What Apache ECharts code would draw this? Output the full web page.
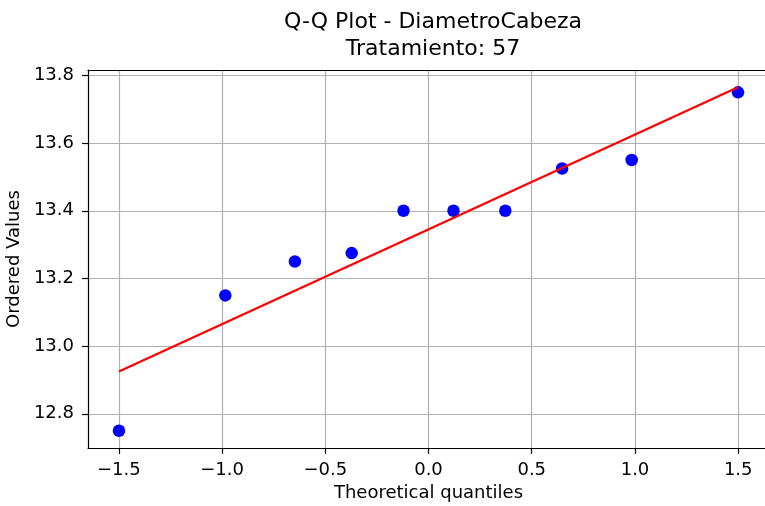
<!DOCTYPE html>
<html>
<head>
<meta charset="utf-8">
<title>Q-Q Plot - DiametroCabeza</title>
<script src="https://cdn.jsdelivr.net/npm/echarts@6/dist/echarts.min.js"></script>
<style>
  html, body { margin: 0; padding: 0; background: #fff; overflow: hidden; }
  #chart { width: 765px; height: 506px; }
</style>
</head>
<body>
<div id="chart"></div>
<script>
// Theoretical normal quantiles (x) and ordered sample values (y)
const theoreticalQuantiles = [-1.499, -0.984, -0.647, -0.372, -0.121, 0.121, 0.372, 0.647, 0.984, 1.499];
const orderedValues = [12.75, 13.15, 13.25, 13.275, 13.4, 13.4, 13.4, 13.525, 13.55, 13.75];

// Least-squares reference line, given by its two end points
const fitLineX = [-1.499, 1.499];
const fitLineY = [12.925, 13.765];

// Tick positions
const xTicks = [-1.5, -1.0, -0.5, 0.0, 0.5, 1.0, 1.5];
const yTicks = [12.8, 13.0, 13.2, 13.4, 13.6, 13.8];

const FONT = "'DejaVu Sans', sans-serif";
const fmt = v => (v < 0 ? '\u2212' : '') + Math.abs(v).toFixed(1);
const X_MIN = -1.649, X_MAX = 1.649;

const chart = echarts.init(document.getElementById('chart'), null, { renderer: 'canvas' });

chart.setOption({
  animation: false,
  backgroundColor: '#fff',
  title: {
    text: 'Q-Q Plot - DiametroCabeza\nTratamiento: 57',
    left: 428,
    top: 4,
    textAlign: 'center',
    textStyle: {
      fontFamily: FONT,
      fontSize: 22,
      fontWeight: 'normal',
      color: '#000',
      lineHeight: 27
    }
  },
  grid: {
    left: 88,
    top: 70,
    width: 681,
    height: 378,
    outerBoundsMode: 'none',
    containLabel: false,
    show: false
  },
  xAxis: [
    {
      type: 'value',
      min: X_MIN,
      max: X_MAX,
      name: 'Theoretical quantiles',
      nameLocation: 'middle',
      nameGap: 36,
      nameTextStyle: { fontFamily: FONT, fontSize: 18, color: '#000' },
      axisLine: { show: true, onZero: false, lineStyle: { color: '#000', width: 1.2 } },
      axisTick: { show: true, length: 6, customValues: xTicks, lineStyle: { color: '#000', width: 1.2 } },
      axisLabel: {
        customValues: xTicks,
        formatter: fmt,
        fontFamily: FONT,
        fontSize: 18,
        color: '#000',
        margin: 13,
        hideOverlap: false
      },
      splitLine: { show: true, lineStyle: { color: '#b0b0b0', width: 1.2 } }
    },
    {
      // top spine
      type: 'value',
      position: 'top',
      min: X_MIN,
      max: X_MAX,
      axisLine: { show: true, onZero: false, lineStyle: { color: '#000', width: 1.2 } },
      axisTick: { show: false },
      axisLabel: { show: false },
      splitLine: { show: false }
    }
  ],
  yAxis: {
    type: 'value',
    min: 12.699,
    max: 13.816,
    name: 'Ordered Values',
    nameLocation: 'middle',
    nameGap: 63,
    nameTextStyle: { fontFamily: FONT, fontSize: 18, color: '#000' },
    axisLine: { show: true, onZero: false, lineStyle: { color: '#000', width: 1.2 } },
    axisTick: { show: true, length: 6, customValues: yTicks, lineStyle: { color: '#000', width: 1.2 } },
    axisLabel: {
      customValues: yTicks,
      formatter: fmt,
      fontFamily: FONT,
      fontSize: 18,
      color: '#000',
      margin: 14
    },
    splitLine: { show: true, lineStyle: { color: '#b0b0b0', width: 1.2 } }
  },
  series: [
    {
      name: 'Datos',
      type: 'scatter',
      xAxisIndex: 0,
      data: theoreticalQuantiles.map((x, i) => [x, orderedValues[i]]),
      symbol: 'circle',
      symbolSize: 12.5,
      itemStyle: { color: '#0000ff', opacity: 1 },
      z: 3
    },
    {
      name: 'Ajuste',
      type: 'line',
      xAxisIndex: 0,
      data: fitLineX.map((x, i) => [x, fitLineY[i]]),
      showSymbol: false,
      symbol: 'none',
      lineStyle: { color: '#ff0000', width: 2.3 },
      z: 4
    }
  ]
});
</script>
</body>
</html>
